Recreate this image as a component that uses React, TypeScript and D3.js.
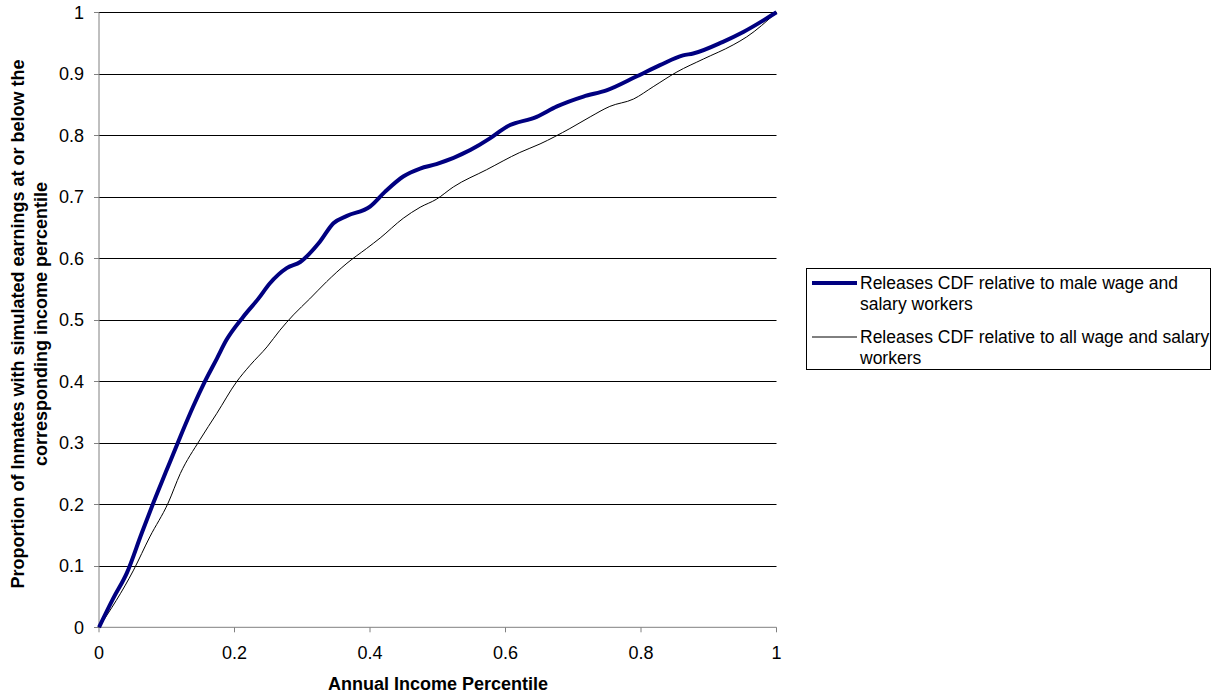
import React from "react";
import * as d3 from "d3";

const maleX = [0, 0.021, 0.041, 0.063, 0.078, 0.1, 0.12, 0.139, 0.156, 0.174, 0.188, 0.213, 0.235, 0.252, 0.277, 0.297, 0.326, 0.346, 0.366, 0.4, 0.422, 0.449, 0.474, 0.498, 0.548, 0.577, 0.602, 0.646, 0.676, 0.715, 0.749, 0.794, 0.828, 0.862, 0.877, 0.921, 0.951, 1.0];
const maleY = [0, 0.047, 0.088, 0.153, 0.196, 0.256, 0.31, 0.359, 0.399, 0.437, 0.467, 0.505, 0.534, 0.559, 0.584, 0.594, 0.627, 0.657, 0.669, 0.684, 0.708, 0.733, 0.746, 0.753, 0.776, 0.795, 0.814, 0.83, 0.847, 0.863, 0.873, 0.896, 0.914, 0.93, 0.933, 0.952, 0.968, 1.0];
const allX = [0, 0.051, 0.075, 0.102, 0.12, 0.149, 0.174, 0.203, 0.223, 0.248, 0.267, 0.287, 0.311, 0.336, 0.366, 0.395, 0.415, 0.449, 0.474, 0.498, 0.523, 0.572, 0.621, 0.651, 0.695, 0.725, 0.754, 0.789, 0.818, 0.853, 0.892, 0.936, 0.956, 1.0];
const allY = [0, 0.093, 0.147, 0.202, 0.25, 0.305, 0.348, 0.399, 0.426, 0.456, 0.483, 0.508, 0.534, 0.562, 0.592, 0.616, 0.633, 0.665, 0.683, 0.696, 0.716, 0.744, 0.772, 0.786, 0.811, 0.83, 0.847, 0.859, 0.879, 0.903, 0.924, 0.947, 0.96, 1.0];
const xTicks = [0, 0.2, 0.4, 0.6, 0.8, 1];
const yTicks = [0, 0.1, 0.2, 0.3, 0.4, 0.5, 0.6, 0.7, 0.8, 0.9, 1];
const seriesNames = [
  ["Releases CDF relative to male wage and", "salary workers"],
  ["Releases CDF relative to all wage and salary", "workers"],
];

export default function App() {
  const W = 1217, H = 700;
  const x = d3.scaleLinear().domain([0, 1]).range([99, 776.5]);
  const y = d3.scaleLinear().domain([0, 1]).range([627.3, 12.3]);
  const line = d3.line<[number, number]>().x(d => x(d[0])).y(d => y(d[1])).curve(d3.curveMonotoneX);
  const male = maleX.map((v, i) => [v, maleY[i]] as [number, number]);
  const all = allX.map((v, i) => [v, allY[i]] as [number, number]);
  const font = "Arial, 'Liberation Sans', sans-serif";
  const fs = 18;
  const lfs = 17.5;
  return (
    <svg width={W} height={H} style={{ position: "absolute", left: 0, top: 0 }} fontFamily={font}>
      <rect width={W} height={H} fill="#fff" />
      {yTicks.filter(t => t > 0).map(t => (
        <line key={t} x1={x(0)} x2={x(1)} y1={Math.round(y(t)) + 0.5} y2={Math.round(y(t)) + 0.5} stroke="#000" strokeWidth={1} />
      ))}
      <line x1={x(0)} x2={x(0)} y1={y(1)} y2={y(0)} stroke="#808080" strokeWidth={1} />
      <line x1={x(0)} x2={x(1)} y1={y(0)} y2={y(0)} stroke="#808080" strokeWidth={1} />
      {yTicks.map(t => (
        <g key={t}>
          <line x1={x(0) - 5} x2={x(0)} y1={Math.round(y(t)) + 0.5} y2={Math.round(y(t)) + 0.5} stroke="#808080" />
          <text x={84} y={y(t)} dy="0.35em" textAnchor="end" fontSize={fs}>{String(t)}</text>
        </g>
      ))}
      {xTicks.map(t => (
        <g key={t}>
          <line x1={x(t)} x2={x(t)} y1={y(0)} y2={y(0) + 5} stroke="#808080" />
          <text x={x(t)} y={659} textAnchor="middle" fontSize={fs}>{String(t)}</text>
        </g>
      ))}
      <path d={line(all) ?? ""} fill="none" stroke="#000" strokeWidth={1} />
      <path d={line(male) ?? ""} fill="none" stroke="#000080" strokeWidth={4} strokeLinejoin="round" />
      <text x={438} y={690} textAnchor="middle" fontSize={fs} fontWeight="bold">Annual Income Percentile</text>
      <g transform="translate(24,324) rotate(-90)">
        <text x={0} y={0} textAnchor="middle" fontSize={fs} fontWeight="bold">Proportion of Inmates with simulated earnings at or below the</text>
        <text x={0} y={22.7} textAnchor="middle" fontSize={fs} fontWeight="bold">corresponding income percentile</text>
      </g>
      <rect x={806.5} y={268.5} width={404} height={101} fill="#fff" stroke="#000" strokeWidth={1} />
      <line x1={812} x2={857} y1={283} y2={283} stroke="#000080" strokeWidth={4} />
      <line x1={812} x2={857} y1={337} y2={337} stroke="#000" strokeWidth={1} />
      {seriesNames.map((lines, i) => (
        <text key={i} fontSize={lfs}>
          {lines.map((l, j) => (
            <tspan key={j} x={860} y={(i === 0 ? 289 : 343) + j * 21}>{l}</tspan>
          ))}
        </text>
      ))}
    </svg>
  );
}
